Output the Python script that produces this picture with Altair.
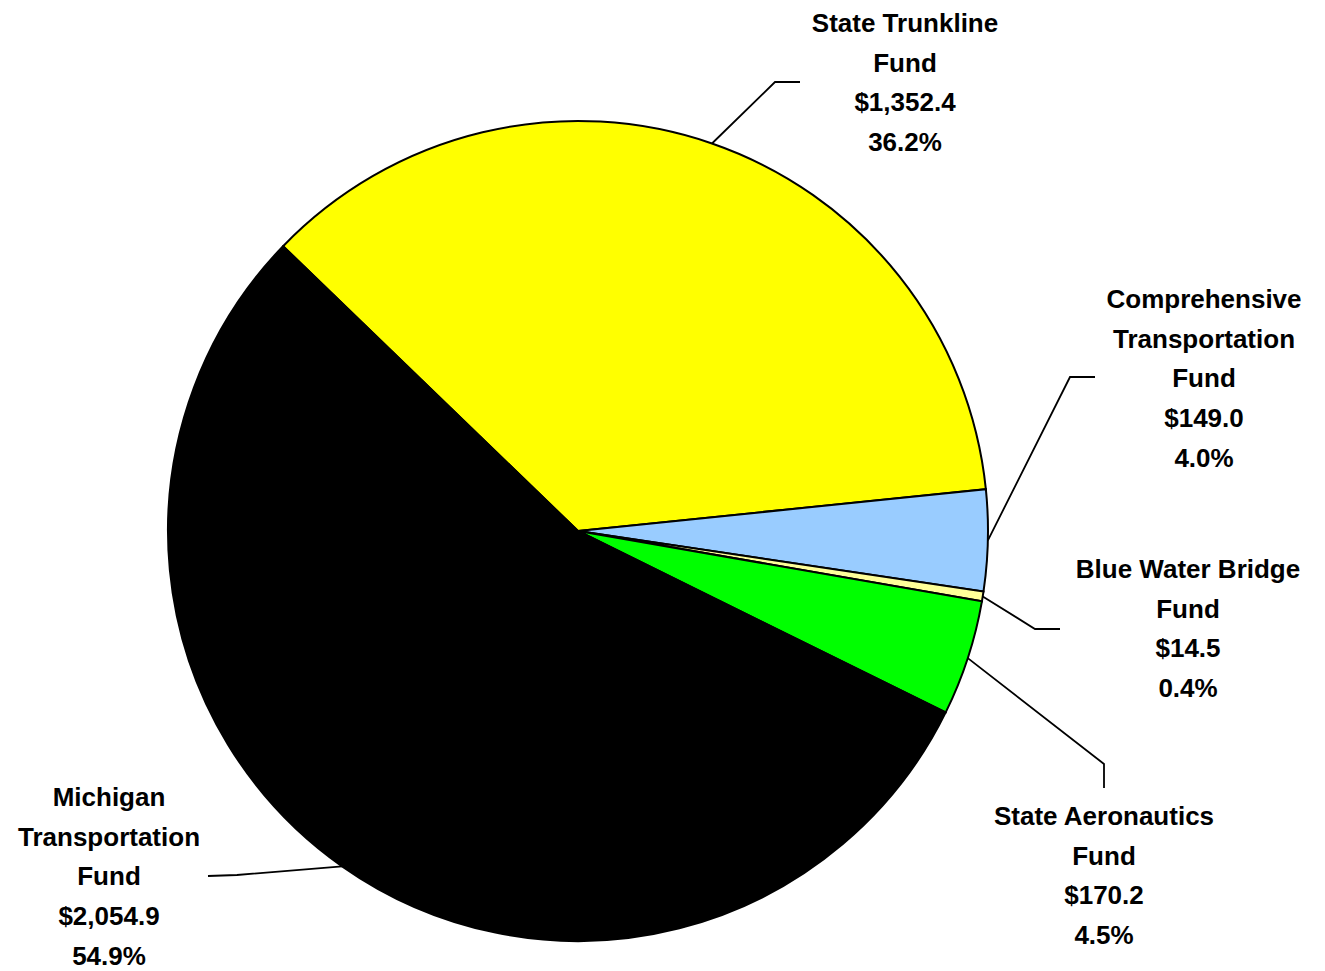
import math
import altair as alt
import pandas as pd

# ---- data ----
funds = ["State Trunkline Fund", "Comprehensive Transportation Fund", "Blue Water Bridge Fund",
         "State Aeronautics Fund", "Michigan Transportation Fund"]
label_lines = [["State Trunkline", "Fund"],
               ["Comprehensive", "Transportation", "Fund"],
               ["Blue Water Bridge", "Fund"],
               ["State Aeronautics", "Fund"],
               ["Michigan", "Transportation", "Fund"]]
amounts = [1352.4, 149.0, 14.5, 170.2, 2054.9]
percents = [36.2, 4.0, 0.4, 4.5, 54.9]
colors = ["#FFFF00", "#99CCFF", "#FFFF99", "#00FF00", "#000000"]

# ---- layout (plot-area pixels) ----
W, H = 1309, 963
CX, CY, R = 570, 523, 410
START_DEG = -46.0
label_anchor = [(897, 24), (1196, 300), (1180, 570), (1096, 817), (101, 798)]
leader_elbow = [(767, 74), (1062, 369), (1027, 621), (1096, 756), (229, 867)]
leader_end = [(792, 74), (1087, 369), (1052, 621), (1096, 780), (200, 868)]

start = math.radians(START_DEG)
total = sum(amounts)

pie_df = pd.DataFrame({"fund": funds, "amount": amounts, "idx": list(range(len(funds)))})

# leader lines start at the slice mid-angle on the pie edge
rows = []
cum = 0.0
for i, a in enumerate(amounts):
    mid = start + 2 * math.pi * (cum + a / 2) / total
    cum += a
    sx = CX + R * math.sin(mid)
    sy = CY - R * math.cos(mid)
    pts = [(sx, sy), leader_elbow[i], leader_end[i]]
    for k, (px, py) in enumerate(pts):
        rows.append({"fund": funds[i], "seq": k, "px": px, "py": py})
lead_df = pd.DataFrame(rows)

lab_df = pd.DataFrame({
    "fund": funds,
    "text": ["\n".join(l + [f"${a:,.1f}", f"{p:.1f}%"]) for l, a, p in zip(label_lines, amounts, percents)],
    "px": [p[0] for p in label_anchor],
    "py": [p[1] for p in label_anchor],
})

xs = alt.Scale(domain=[0, W], range=[0, W], nice=False, zero=False)
ys = alt.Scale(domain=[0, H], range=[0, H], nice=False, zero=False)

pie = alt.Chart(pie_df).mark_arc(radius=R, stroke="black", strokeWidth=2).encode(
    theta=alt.Theta("amount:Q", stack=True, scale=alt.Scale(range=[start, start + 2 * math.pi])),
    color=alt.Color("fund:N", scale=alt.Scale(domain=funds, range=colors), legend=None),
    order=alt.Order("idx:Q"),
    x=alt.value(CX),
    y=alt.value(CY),
)

leaders = alt.Chart(lead_df).mark_line(color="black", strokeWidth=1.8).encode(
    x=alt.X("px:Q", scale=xs, axis=None),
    y=alt.Y("py:Q", scale=ys, axis=None),
    detail="fund:N",
    order="seq:Q",
)

labels = alt.Chart(lab_df).mark_text(
    lineBreak="\n", lineHeight=39.7, align="center", baseline="alphabetic",
    fontSize=26, fontWeight="bold", font="Liberation Sans", color="black"
).encode(
    x=alt.X("px:Q", scale=xs, axis=None),
    y=alt.Y("py:Q", scale=ys, axis=None),
    text="text:N",
)

chart = alt.layer(pie, leaders, labels).properties(
    width=W, height=H, padding=0, autosize=alt.AutoSizeParams(type="none"), background="white"
).configure_view(stroke=None)

chart.save("out.html", embed_options={"renderer": "svg", "actions": False})
